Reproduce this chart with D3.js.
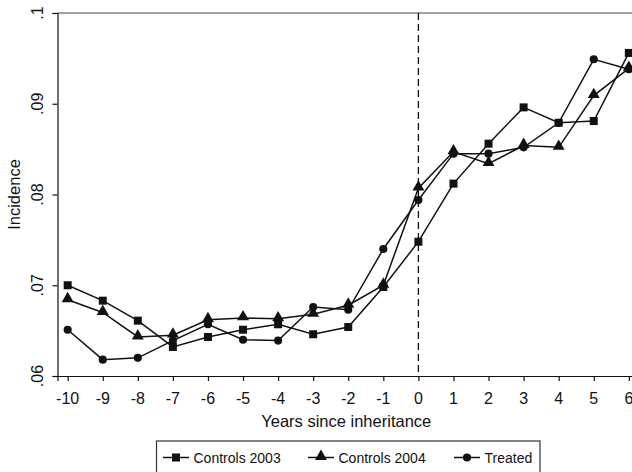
<!DOCTYPE html>
<html>
<head>
<meta charset="utf-8">
<script src="https://cdn.jsdelivr.net/npm/d3@7"></script>
<style>
  body { margin: 0; background: #fff; }
  svg { display: block; font-family: "Liberation Sans", Arial, sans-serif; }
</style>
</head>
<body>
<div id="chart"></div>
<script>
// years relative to the inheritance
var years = [-10, -9, -8, -7, -6, -5, -4, -3, -2, -1, 0, 1, 2, 3, 4, 5, 6];

// incidence per group
var controls2003 = [.0700, .0683, .0661, .0632, .0643, .0651, .0657, .0646, .0654, .0698, .0748,
                    .0812, .0856, .0896, .0879, .0881, .0956];
var controls2004 = [.0684, .0670, .0643, .0645, .0662, .0664, .0663, .0668, .0678, .0700, .0807,
                    .0847, .0834, .0854, .0852, .0909, .0939];
var treated      = [.0651, .0618, .0620, .0639, .0657, .0640, .0639, .0676, .0673, .0740, .0794,
                    .0845, .0845, .0852, .0879, .0949, .0938];

var yTicks = [.06, .07, .08, .09, .1];
var yTickLabels = [".06", ".07", ".08", ".09", ".1"];

var series = [
  { name: "Controls 2003", values: controls2003, symbol: d3.symbolSquare, size: 64 },
  { name: "Controls 2004", values: controls2004, symbol: d3.symbolTriangle, size: 62 },
  { name: "Treated", values: treated, symbol: d3.symbolCircle, size: 52 }
];

var width = 632, height = 472;
var ink = "#111";

var svg = d3.select("#chart").append("svg")
    .attr("width", width)
    .attr("height", height);

var x = d3.scaleLinear().domain([-10.29, 6.29]).range([57.5, 639]);
var y = d3.scaleLinear().domain([.06, .1]).range([376, 13]);

// frame: top line, left axis, bottom axis
svg.append("line")
    .attr("x1", x.range()[0]).attr("x2", width + 10)
    .attr("y1", y(.1)).attr("y2", y(.1))
    .attr("stroke", "#444").attr("stroke-width", 1.2);

var yAxis = svg.append("g")
    .attr("transform", "translate(" + x.range()[0] + ",0)")
    .call(d3.axisLeft(y).tickValues(yTicks).tickSize(5).tickFormat(""));
yAxis.select(".domain").attr("stroke", ink).attr("stroke-width", 1.2);
yAxis.selectAll(".tick line").attr("stroke", ink).attr("stroke-width", 1.2);

var xAxis = svg.append("g")
    .attr("transform", "translate(0," + y.range()[0] + ")")
    .call(d3.axisBottom(x).tickValues(years).tickSize(5).tickFormat(""));
xAxis.select(".domain").attr("stroke", ink).attr("stroke-width", 1.2);
xAxis.selectAll(".tick line").attr("stroke", ink).attr("stroke-width", 1.2);

// tick labels
svg.selectAll(".xlab")
    .data(years)
    .enter().append("text")
    .attr("class", "xlab")
    .attr("x", function(d) { return x(d); })
    .attr("y", 403.5)
    .attr("text-anchor", "middle")
    .attr("font-size", 16)
    .attr("fill", ink)
    .text(function(d) { return d; });

svg.selectAll(".ylab")
    .data(yTicks)
    .enter().append("text")
    .attr("class", "ylab")
    .attr("transform", function(d) { return "translate(43," + y(d) + ") rotate(-90)"; })
    .attr("text-anchor", "middle")
    .attr("font-size", 16)
    .attr("fill", ink)
    .text(function(d, i) { return yTickLabels[i]; });

// axis titles
svg.append("text")
    .attr("x", (x(-10) + x(6)) / 2 - 2)
    .attr("y", 426.5)
    .attr("text-anchor", "middle")
    .attr("font-size", 16.5)
    .attr("fill", ink)
    .text("Years since inheritance");

svg.append("text")
    .attr("transform", "translate(19.5," + (y(.08)) + ") rotate(-90)")
    .attr("text-anchor", "middle")
    .attr("font-size", 16.5)
    .attr("fill", ink)
    .text("Incidence");

// dashed line at year 0
svg.append("line")
    .attr("x1", x(0)).attr("x2", x(0))
    .attr("y1", y(.1)).attr("y2", y(.06))
    .attr("stroke", ink).attr("stroke-width", 1.3)
    .attr("stroke-dasharray", "7,4");

// series lines and markers
var line = d3.line()
    .x(function(d, i) { return x(years[i]); })
    .y(function(d) { return y(d); });

series.forEach(function(s) {
  svg.append("path")
      .datum(s.values)
      .attr("d", line)
      .attr("fill", "none")
      .attr("stroke", ink)
      .attr("stroke-width", 1.5);

  svg.selectAll(null)
      .data(s.values)
      .enter().append("path")
      .attr("transform", function(d, i) {
        var dy = s.symbol === d3.symbolTriangle ? -1 : 0;
        return "translate(" + x(years[i]) + "," + (y(d) + dy) + ")";
      })
      .attr("d", d3.symbol().type(s.symbol).size(s.size))
      .attr("fill", ink);
});

// legend
svg.append("rect")
    .attr("x", 156.5).attr("y", 441)
    .attr("width", 383.5).attr("height", 45)
    .attr("fill", "#fff")
    .attr("stroke", "#333").attr("stroke-width", 1.2);

var legendX = [163, 308, 454];
var legend = svg.selectAll(".leg")
    .data(series)
    .enter().append("g")
    .attr("class", "leg")
    .attr("transform", function(d, i) { return "translate(" + legendX[i] + ",457.5)"; });

legend.append("line")
    .attr("x1", 0).attr("x2", 26)
    .attr("stroke", ink).attr("stroke-width", 1.5);

legend.append("path")
    .attr("transform", function(d) { return "translate(13," + (d.symbol === d3.symbolTriangle ? -1 : 0) + ")"; })
    .attr("d", function(d) { return d3.symbol().type(d.symbol).size(d.size)(); })
    .attr("fill", ink);

legend.append("text")
    .attr("x", 30.5)
    .attr("y", 5)
    .attr("font-size", 14)
    .attr("fill", ink)
    .text(function(d) { return d.name; });
</script>
</body>
</html>
